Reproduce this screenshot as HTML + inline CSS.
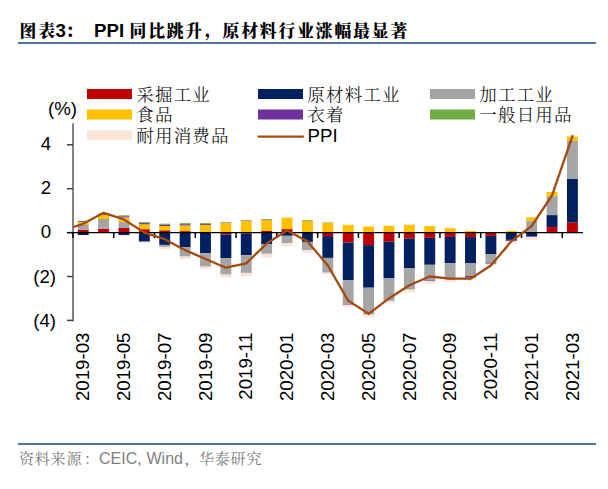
<!DOCTYPE html>
<html><head><meta charset="utf-8"><style>
html,body{margin:0;padding:0;background:#fff;}
body{width:608px;height:489px;overflow:hidden;}
svg{display:block;}
.ax{font-family:"Liberation Sans",Arial,sans-serif;font-size:18.67px;fill:#000;}
.lg{font-family:"Liberation Serif","Noto Serif CJK SC",serif;font-size:17.5px;letter-spacing:1.17px;font-weight:300;fill:#000;}
.tt{font-family:"Liberation Serif","Noto Serif CJK SC",serif;font-size:18.67px;font-weight:900;letter-spacing:2.07px;fill:#000;}
.tl{font-family:"Liberation Sans",Arial,sans-serif;font-weight:700;font-size:18.67px;fill:#000;}
.src{font-family:"Liberation Serif","Noto Serif CJK SC",serif;font-size:15px;letter-spacing:0.8px;font-weight:400;fill:#7A7A7A;}
.srcl{font-family:"Liberation Sans",Arial,sans-serif;font-size:16px;fill:#7F7F7F;}
</style></head><body>
<svg width="608" height="489" viewBox="0 0 608 489">
<rect x="77.74" y="229.8" width="10.9" height="2.8" fill="#C00000"/>
<rect x="77.74" y="225" width="10.9" height="4.8" fill="#A5A5A5"/>
<rect x="77.74" y="222" width="10.9" height="3" fill="#FFC000"/>
<rect x="77.74" y="221.2" width="10.9" height="0.8" fill="#7030A0"/>
<rect x="77.74" y="220.8" width="10.9" height="0.4" fill="#70AD47"/>
<rect x="77.74" y="232.6" width="10.9" height="2.4" fill="#002060"/>
<rect x="77.74" y="235" width="10.9" height="0.6" fill="#FBE5D6"/>
<rect x="98.13" y="228.8" width="10.9" height="3.8" fill="#C00000"/>
<rect x="98.13" y="219" width="10.9" height="9.8" fill="#A5A5A5"/>
<rect x="98.13" y="214.9" width="10.9" height="4.1" fill="#FFC000"/>
<rect x="98.13" y="214.1" width="10.9" height="0.8" fill="#7030A0"/>
<rect x="98.13" y="213.6" width="10.9" height="0.5" fill="#70AD47"/>
<rect x="118.51" y="228" width="10.9" height="4.6" fill="#C00000"/>
<rect x="118.51" y="222.1" width="10.9" height="5.9" fill="#A5A5A5"/>
<rect x="118.51" y="217.4" width="10.9" height="4.7" fill="#FFC000"/>
<rect x="118.51" y="216.29" width="10.9" height="1.11" fill="#7030A0"/>
<rect x="118.51" y="215.29" width="10.9" height="1" fill="#70AD47"/>
<rect x="118.51" y="232.6" width="10.9" height="2.4" fill="#002060"/>
<rect x="118.51" y="235" width="10.9" height="0.8" fill="#FBE5D6"/>
<rect x="138.9" y="229.2" width="10.9" height="3.4" fill="#C00000"/>
<rect x="138.9" y="224.3" width="10.9" height="4.9" fill="#FFC000"/>
<rect x="138.9" y="223.1" width="10.9" height="1.2" fill="#7030A0"/>
<rect x="138.9" y="222.1" width="10.9" height="1" fill="#70AD47"/>
<rect x="138.9" y="232.6" width="10.9" height="9.1" fill="#002060"/>
<rect x="138.9" y="241.7" width="10.9" height="0.9" fill="#FBE5D6"/>
<rect x="159.28" y="230.3" width="10.9" height="2.3" fill="#C00000"/>
<rect x="159.28" y="226" width="10.9" height="4.3" fill="#FFC000"/>
<rect x="159.28" y="224.89" width="10.9" height="1.11" fill="#7030A0"/>
<rect x="159.28" y="223.69" width="10.9" height="1.2" fill="#70AD47"/>
<rect x="159.28" y="232.6" width="10.9" height="12.3" fill="#002060"/>
<rect x="159.28" y="244.9" width="10.9" height="2" fill="#A5A5A5"/>
<rect x="159.28" y="246.9" width="10.9" height="2.1" fill="#FBE5D6"/>
<rect x="179.67" y="231.1" width="10.9" height="1.5" fill="#C00000"/>
<rect x="179.67" y="225.4" width="10.9" height="5.7" fill="#FFC000"/>
<rect x="179.67" y="224.2" width="10.9" height="1.2" fill="#7030A0"/>
<rect x="179.67" y="223.1" width="10.9" height="1.1" fill="#70AD47"/>
<rect x="179.67" y="232.6" width="10.9" height="14.8" fill="#002060"/>
<rect x="179.67" y="247.4" width="10.9" height="9.2" fill="#A5A5A5"/>
<rect x="179.67" y="256.6" width="10.9" height="2.4" fill="#FBE5D6"/>
<rect x="200.05" y="224.9" width="10.9" height="7.7" fill="#FFC000"/>
<rect x="200.05" y="223.9" width="10.9" height="1" fill="#7030A0"/>
<rect x="200.05" y="223" width="10.9" height="0.9" fill="#70AD47"/>
<rect x="200.05" y="232.6" width="10.9" height="20.5" fill="#002060"/>
<rect x="200.05" y="253.1" width="10.9" height="13.6" fill="#A5A5A5"/>
<rect x="200.05" y="266.7" width="10.9" height="2.2" fill="#FBE5D6"/>
<rect x="220.44" y="223" width="10.9" height="9.6" fill="#FFC000"/>
<rect x="220.44" y="222.6" width="10.9" height="0.4" fill="#7030A0"/>
<rect x="220.44" y="222.2" width="10.9" height="0.4" fill="#70AD47"/>
<rect x="220.44" y="232.6" width="10.9" height="1.9" fill="#C00000"/>
<rect x="220.44" y="234.5" width="10.9" height="23.6" fill="#002060"/>
<rect x="220.44" y="258.1" width="10.9" height="16.5" fill="#A5A5A5"/>
<rect x="220.44" y="274.6" width="10.9" height="2.9" fill="#FBE5D6"/>
<rect x="240.82" y="220.9" width="10.9" height="11.7" fill="#FFC000"/>
<rect x="240.82" y="220.5" width="10.9" height="0.4" fill="#7030A0"/>
<rect x="240.82" y="220.1" width="10.9" height="0.4" fill="#70AD47"/>
<rect x="240.82" y="232.6" width="10.9" height="1" fill="#C00000"/>
<rect x="240.82" y="233.6" width="10.9" height="21.7" fill="#002060"/>
<rect x="240.82" y="255.3" width="10.9" height="17.6" fill="#A5A5A5"/>
<rect x="240.82" y="272.9" width="10.9" height="3.4" fill="#FBE5D6"/>
<rect x="261.21" y="230.9" width="10.9" height="1.7" fill="#C00000"/>
<rect x="261.21" y="220.1" width="10.9" height="10.8" fill="#FFC000"/>
<rect x="261.21" y="219.59" width="10.9" height="0.51" fill="#7030A0"/>
<rect x="261.21" y="218.99" width="10.9" height="0.6" fill="#70AD47"/>
<rect x="261.21" y="232.6" width="10.9" height="11.6" fill="#002060"/>
<rect x="261.21" y="244.2" width="10.9" height="9.6" fill="#A5A5A5"/>
<rect x="261.21" y="253.8" width="10.9" height="3.6" fill="#FBE5D6"/>
<rect x="281.59" y="229.1" width="10.9" height="3.5" fill="#C00000"/>
<rect x="281.59" y="217.7" width="10.9" height="11.4" fill="#FFC000"/>
<rect x="281.59" y="232.6" width="10.9" height="3.2" fill="#002060"/>
<rect x="281.59" y="235.8" width="10.9" height="7.2" fill="#A5A5A5"/>
<rect x="281.59" y="243" width="10.9" height="3" fill="#FBE5D6"/>
<rect x="301.98" y="221" width="10.9" height="11.6" fill="#FFC000"/>
<rect x="301.98" y="220.2" width="10.9" height="0.8" fill="#70AD47"/>
<rect x="301.98" y="232.6" width="10.9" height="9.3" fill="#002060"/>
<rect x="301.98" y="241.9" width="10.9" height="8.2" fill="#A5A5A5"/>
<rect x="301.98" y="250.1" width="10.9" height="2.6" fill="#FBE5D6"/>
<rect x="322.36" y="223.1" width="10.9" height="9.5" fill="#FFC000"/>
<rect x="322.36" y="222.5" width="10.9" height="0.6" fill="#70AD47"/>
<rect x="322.36" y="232.6" width="10.9" height="3.5" fill="#C00000"/>
<rect x="322.36" y="236.1" width="10.9" height="21.8" fill="#002060"/>
<rect x="322.36" y="257.9" width="10.9" height="14.1" fill="#A5A5A5"/>
<rect x="322.36" y="272" width="10.9" height="0.44" fill="#7030A0"/>
<rect x="322.36" y="272.44" width="10.9" height="1.9" fill="#FBE5D6"/>
<rect x="342.75" y="224.8" width="10.9" height="7.8" fill="#FFC000"/>
<rect x="342.75" y="232.6" width="10.9" height="9.9" fill="#C00000"/>
<rect x="342.75" y="242.5" width="10.9" height="37.5" fill="#002060"/>
<rect x="342.75" y="280" width="10.9" height="24.5" fill="#A5A5A5"/>
<rect x="342.75" y="304.5" width="10.9" height="0.44" fill="#7030A0"/>
<rect x="342.75" y="304.94" width="10.9" height="2.5" fill="#FBE5D6"/>
<rect x="363.13" y="226.6" width="10.9" height="6" fill="#FFC000"/>
<rect x="363.13" y="232.6" width="10.9" height="12.5" fill="#C00000"/>
<rect x="363.13" y="245.1" width="10.9" height="42.6" fill="#002060"/>
<rect x="363.13" y="287.7" width="10.9" height="26" fill="#A5A5A5"/>
<rect x="363.13" y="313.7" width="10.9" height="0.72" fill="#7030A0"/>
<rect x="363.13" y="314.42" width="10.9" height="2.7" fill="#FBE5D6"/>
<rect x="383.52" y="225.8" width="10.9" height="6.8" fill="#FFC000"/>
<rect x="383.52" y="232.6" width="10.9" height="9.1" fill="#C00000"/>
<rect x="383.52" y="241.7" width="10.9" height="36.4" fill="#002060"/>
<rect x="383.52" y="278.1" width="10.9" height="22" fill="#A5A5A5"/>
<rect x="383.52" y="300.1" width="10.9" height="0.55" fill="#7030A0"/>
<rect x="383.52" y="300.65" width="10.9" height="2.6" fill="#FBE5D6"/>
<rect x="403.9" y="224.8" width="10.9" height="7.8" fill="#FFC000"/>
<rect x="403.9" y="232.6" width="10.9" height="5.8" fill="#C00000"/>
<rect x="403.9" y="238.4" width="10.9" height="29.8" fill="#002060"/>
<rect x="403.9" y="268.2" width="10.9" height="20.1" fill="#A5A5A5"/>
<rect x="403.9" y="288.3" width="10.9" height="0.44" fill="#7030A0"/>
<rect x="403.9" y="288.74" width="10.9" height="0.8" fill="#70AD47"/>
<rect x="403.9" y="289.54" width="10.9" height="3.1" fill="#FBE5D6"/>
<rect x="424.29" y="226.1" width="10.9" height="6.5" fill="#FFC000"/>
<rect x="424.29" y="232.6" width="10.9" height="5.2" fill="#C00000"/>
<rect x="424.29" y="237.8" width="10.9" height="27" fill="#002060"/>
<rect x="424.29" y="264.8" width="10.9" height="15.6" fill="#A5A5A5"/>
<rect x="424.29" y="280.4" width="10.9" height="0.72" fill="#7030A0"/>
<rect x="424.29" y="281.12" width="10.9" height="2.5" fill="#FBE5D6"/>
<rect x="444.67" y="228.2" width="10.9" height="4.4" fill="#FFC000"/>
<rect x="444.67" y="232.6" width="10.9" height="4.3" fill="#C00000"/>
<rect x="444.67" y="236.9" width="10.9" height="26.3" fill="#002060"/>
<rect x="444.67" y="263.2" width="10.9" height="15.7" fill="#A5A5A5"/>
<rect x="444.67" y="278.9" width="10.9" height="0.66" fill="#7030A0"/>
<rect x="444.67" y="279.56" width="10.9" height="2.6" fill="#FBE5D6"/>
<rect x="465.06" y="231" width="10.9" height="1.6" fill="#FFC000"/>
<rect x="465.06" y="232.6" width="10.9" height="4.5" fill="#C00000"/>
<rect x="465.06" y="237.1" width="10.9" height="25.9" fill="#002060"/>
<rect x="465.06" y="263" width="10.9" height="13" fill="#A5A5A5"/>
<rect x="465.06" y="276" width="10.9" height="1.11" fill="#7030A0"/>
<rect x="465.06" y="277.11" width="10.9" height="1" fill="#70AD47"/>
<rect x="465.06" y="278.11" width="10.9" height="2.3" fill="#FBE5D6"/>
<rect x="485.44" y="232.6" width="10.9" height="3.3" fill="#C00000"/>
<rect x="485.44" y="235.9" width="10.9" height="18.1" fill="#002060"/>
<rect x="485.44" y="254" width="10.9" height="8.7" fill="#A5A5A5"/>
<rect x="485.44" y="262.7" width="10.9" height="0.91" fill="#7030A0"/>
<rect x="485.44" y="263.61" width="10.9" height="0.6" fill="#70AD47"/>
<rect x="485.44" y="264.21" width="10.9" height="1.5" fill="#FBE5D6"/>
<rect x="505.83" y="230.8" width="10.9" height="1.8" fill="#FFC000"/>
<rect x="505.83" y="232.6" width="10.9" height="7.3" fill="#002060"/>
<rect x="505.83" y="239.9" width="10.9" height="1" fill="#7030A0"/>
<rect x="505.83" y="240.9" width="10.9" height="0.5" fill="#70AD47"/>
<rect x="505.83" y="241.4" width="10.9" height="2.3" fill="#FBE5D6"/>
<rect x="526.21" y="220.9" width="10.9" height="11.7" fill="#A5A5A5"/>
<rect x="526.21" y="217.3" width="10.9" height="3.6" fill="#FFC000"/>
<rect x="526.21" y="232.6" width="10.9" height="3.8" fill="#002060"/>
<rect x="526.21" y="236.4" width="10.9" height="0.71" fill="#7030A0"/>
<rect x="526.21" y="237.11" width="10.9" height="2.8" fill="#FBE5D6"/>
<rect x="546.6" y="227.1" width="10.9" height="5.5" fill="#C00000"/>
<rect x="546.6" y="215.1" width="10.9" height="12" fill="#002060"/>
<rect x="546.6" y="196.1" width="10.9" height="19" fill="#A5A5A5"/>
<rect x="546.6" y="192" width="10.9" height="4.1" fill="#FFC000"/>
<rect x="546.6" y="232.6" width="10.9" height="1.5" fill="#FBE5D6"/>
<rect x="566.98" y="222.4" width="10.9" height="10.2" fill="#C00000"/>
<rect x="566.98" y="178.7" width="10.9" height="43.7" fill="#002060"/>
<rect x="566.98" y="140.8" width="10.9" height="37.9" fill="#A5A5A5"/>
<rect x="566.98" y="136.5" width="10.9" height="4.3" fill="#FFC000"/>
<rect x="566.98" y="232.6" width="10.9" height="1" fill="#FBE5D6"/>
<line x1="73.0" y1="123.3" x2="73.0" y2="321.3" stroke="#595959" stroke-width="1.5"/>
<line x1="67" y1="144.8" x2="73.0" y2="144.8" stroke="#404040" stroke-width="1.5"/>
<line x1="67" y1="188.7" x2="73.0" y2="188.7" stroke="#404040" stroke-width="1.5"/>
<line x1="67" y1="232.6" x2="73.0" y2="232.6" stroke="#404040" stroke-width="1.5"/>
<line x1="67" y1="276.5" x2="73.0" y2="276.5" stroke="#404040" stroke-width="1.5"/>
<line x1="67" y1="320.4" x2="73.0" y2="320.4" stroke="#404040" stroke-width="1.5"/>
<line x1="67" y1="232.6" x2="583" y2="232.6" stroke="#000" stroke-width="1.3"/>
<line x1="73" y1="232.6" x2="73" y2="238" stroke="#000" stroke-width="1.5"/>
<line x1="113.77" y1="232.6" x2="113.77" y2="238" stroke="#000" stroke-width="1.5"/>
<line x1="154.54" y1="232.6" x2="154.54" y2="238" stroke="#000" stroke-width="1.5"/>
<line x1="195.31" y1="232.6" x2="195.31" y2="238" stroke="#000" stroke-width="1.5"/>
<line x1="236.08" y1="232.6" x2="236.08" y2="238" stroke="#000" stroke-width="1.5"/>
<line x1="276.85" y1="232.6" x2="276.85" y2="238" stroke="#000" stroke-width="1.5"/>
<line x1="317.62" y1="232.6" x2="317.62" y2="238" stroke="#000" stroke-width="1.5"/>
<line x1="358.39" y1="232.6" x2="358.39" y2="238" stroke="#000" stroke-width="1.5"/>
<line x1="399.16" y1="232.6" x2="399.16" y2="238" stroke="#000" stroke-width="1.5"/>
<line x1="439.93" y1="232.6" x2="439.93" y2="238" stroke="#000" stroke-width="1.5"/>
<line x1="480.7" y1="232.6" x2="480.7" y2="238" stroke="#000" stroke-width="1.5"/>
<line x1="521.47" y1="232.6" x2="521.47" y2="238" stroke="#000" stroke-width="1.5"/>
<line x1="562.24" y1="232.6" x2="562.24" y2="238" stroke="#000" stroke-width="1.5"/>
<clipPath id="pc"><rect x="73" y="100" width="520" height="240"/></clipPath>
<polyline clip-path="url(#pc)" points="62.81,230.41 83.19,223.82 103.58,212.84 123.96,219.43 144.35,232.6 164.73,239.19 185.12,250.16 205.5,258.94 225.89,267.72 246.27,263.33 266.66,243.57 287.04,230.41 307.43,241.38 327.81,265.52 348.2,300.64 368.58,313.81 388.97,298.45 409.35,285.28 429.74,276.5 450.12,278.69 470.51,278.69 490.89,265.52 511.28,241.38 531.66,226.01 552.05,195.28 572.43,136.02" fill="none" stroke="#A44A10" stroke-width="2.3" stroke-linejoin="round" stroke-linecap="round"/>
<text x="51.2" y="150.3" text-anchor="end" class="ax">4</text>
<text x="51.2" y="194.2" text-anchor="end" class="ax">2</text>
<text x="51.2" y="238.1" text-anchor="end" class="ax">0</text>
<text x="56" y="282.9" text-anchor="end" class="ax">(2)</text>
<text x="56" y="326.8" text-anchor="end" class="ax">(4)</text>
<text x="77" y="115" text-anchor="end" class="ax">(%)</text>
<text transform="translate(89.39,332.6) rotate(-90)" text-anchor="end" class="ax">2019-03</text>
<text transform="translate(130.16,332.6) rotate(-90)" text-anchor="end" class="ax">2019-05</text>
<text transform="translate(170.93,332.6) rotate(-90)" text-anchor="end" class="ax">2019-07</text>
<text transform="translate(211.7,332.6) rotate(-90)" text-anchor="end" class="ax">2019-09</text>
<text transform="translate(252.47,332.6) rotate(-90)" text-anchor="end" class="ax">2019-11</text>
<text transform="translate(293.24,332.6) rotate(-90)" text-anchor="end" class="ax">2020-01</text>
<text transform="translate(334.01,332.6) rotate(-90)" text-anchor="end" class="ax">2020-03</text>
<text transform="translate(374.78,332.6) rotate(-90)" text-anchor="end" class="ax">2020-05</text>
<text transform="translate(415.55,332.6) rotate(-90)" text-anchor="end" class="ax">2020-07</text>
<text transform="translate(456.32,332.6) rotate(-90)" text-anchor="end" class="ax">2020-09</text>
<text transform="translate(497.09,332.6) rotate(-90)" text-anchor="end" class="ax">2020-11</text>
<text transform="translate(537.86,332.6) rotate(-90)" text-anchor="end" class="ax">2021-01</text>
<text transform="translate(578.63,332.6) rotate(-90)" text-anchor="end" class="ax">2021-03</text>
<rect x="87" y="89" width="45" height="10" fill="#C00000"/>
<text x="136.3" y="100.5" class="lg">采掘工业</text>
<rect x="258" y="89" width="45" height="10" fill="#002060"/>
<text x="307.3" y="100.5" class="lg">原材料工业</text>
<rect x="430" y="89" width="45" height="10" fill="#A5A5A5"/>
<text x="479.3" y="100.5" class="lg">加工工业</text>
<rect x="87" y="109.5" width="45" height="10" fill="#FFC000"/>
<text x="136.3" y="121.0" class="lg">食品</text>
<rect x="258" y="109.5" width="45" height="10" fill="#7030A0"/>
<text x="307.3" y="121.0" class="lg">衣着</text>
<rect x="430" y="109.5" width="45" height="10" fill="#70AD47"/>
<text x="479.3" y="121.0" class="lg">一般日用品</text>
<rect x="87" y="130.3" width="45" height="10" fill="#FBE5D6"/>
<text x="136.3" y="141.8" class="lg">耐用消费品</text>
<line x1="258.5" y1="136.5" x2="303" y2="136.5" stroke="#A44A10" stroke-width="2.25" stroke-linecap="round"/>
<text x="307.5" y="141.6" class="ax">PPI</text>
<rect x="18" y="42" width="578" height="2" fill="#52769F"/>
<rect x="18" y="443" width="578" height="2" fill="#52769F"/>
<text transform="translate(19.5,36.6) scale(0.9,0.93)" class="tt">图表</text>
<text x="55.5" y="36.7" class="tl">3</text>
<text transform="translate(65.5,36.6) scale(0.9,0.93)" class="tt">：</text>
<text x="94" y="36.7" class="tl">PPI</text>
<text transform="translate(129.5,36.6) scale(0.9,0.93)" class="tt">同比跳升</text>
<text transform="translate(205,35.6) scale(0.9,0.93)" class="tt">，</text>
<text transform="translate(222.5,36.6) scale(0.9,0.93)" class="tt">原材料行业涨幅最显著</text>
<text x="19" y="463.5" class="src">资料来源</text>
<text x="84" y="463.5" class="src">：</text>
<text x="99" y="463.5" class="srcl">CEIC,</text>
<text x="146.5" y="463.5" class="srcl">Wind</text>
<text x="184.5" y="463.5" class="src">，</text>
<text x="199" y="463.5" class="src">华泰研究</text>
</svg>
</body></html>
